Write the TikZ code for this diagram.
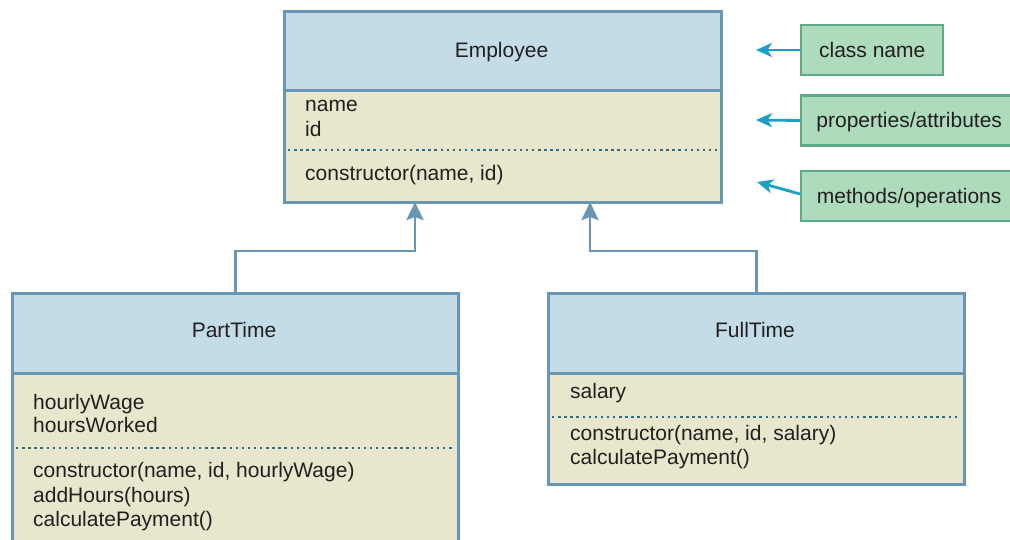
\documentclass[tikz,border=0pt]{standalone}
\usepackage{fontspec}
\setmainfont{Liberation Sans}
\usetikzlibrary{arrows.meta}
\definecolor{hdr}{HTML}{C3DCE8}
\definecolor{bdy}{HTML}{E8E6CC}
\definecolor{brd}{HTML}{6A96B6}
\definecolor{dotc}{HTML}{2C6E88}
\definecolor{lblfill}{HTML}{AEDBBC}
\definecolor{lbldraw}{HTML}{5CAA88}
\definecolor{cyanarr}{HTML}{1CA0C6}
\definecolor{txt}{HTML}{231F20}
\tikzset{
  boxpart/.style={draw=brd, line width=2.6pt, inner sep=0pt, anchor=north west},
  hdrbox/.style={boxpart, fill=hdr},
  bodybox/.style={boxpart, fill=bdy},
  ttl/.style={anchor=base, inner sep=0pt, text=txt},
  line/.style={anchor=base west, inner sep=0pt, text=txt},
  sep/.style={draw=dotc, line width=2.5pt, dash pattern=on 2.4pt off 3.7pt},
  inh/.style={draw=brd, line width=2.6pt, -{Stealth[length=18pt,width=17pt,inset=3pt]}},
  lbl/.style={draw=lbldraw, fill=lblfill, line width=2.4pt, anchor=west, inner sep=0pt,
    minimum height=50pt, text height=15pt, text depth=1pt, text=txt},
  callout/.style={draw=cyanarr, line width=2.8pt, -{Stealth[length=16pt,width=14pt,inset=4.5pt]}}
}
\begin{document}
\begin{tikzpicture}[x=1pt,y=-1pt, font=\fontsize{21}{24}\selectfont]
\useasboundingbox (0,0) rectangle (1010,539);

% Employee
\node[bodybox, minimum width=437pt, minimum height=112pt] (eb) at (283,89) {};
\node[hdrbox, minimum width=437pt, minimum height=79pt] (eh) at (283,10) {};
\node[ttl] (et) at (501.5,57.3) {Employee};
\node[line] (e1) at (305,111.5) {name};
\node[line] (e2) at (305,136) {id};
\coordinate (edl) at (288,150);
\coordinate (edr) at (717,150);
\draw[sep] (edl) -- (edr);
\node[line] (e3) at (305,180) {constructor(name, id)};

% PartTime
\node[bodybox, minimum width=446pt, minimum height=200pt] (pb) at (11,372) {};
\node[hdrbox, minimum width=446pt, minimum height=80pt] (ph) at (11,292) {};
\node[ttl] (pt) at (234,337.7) {PartTime};
\node[line] (p1) at (33,409.3) {hourlyWage};
\node[line] (p2) at (33,432.6) {hoursWorked};
\coordinate (pdl) at (16,448);
\coordinate (pdr) at (454,448);
\draw[sep] (pdl) -- (pdr);
\node[line] (p3) at (33,477.7) {constructor(name, id, hourlyWage)};
\node[line] (p4) at (33,502.2) {addHours(hours)};
\node[line] (p5) at (33,526.7) {calculatePayment()};

% FullTime
\node[bodybox, minimum width=416pt, minimum height=111pt] (fb) at (547,372) {};
\node[hdrbox, minimum width=416pt, minimum height=80pt] (fh) at (547,292) {};
\node[ttl] (ft) at (755,337.7) {FullTime};
\node[line] (f1) at (570,398) {salary};
\coordinate (fdl) at (552,417);
\coordinate (fdr) at (960,417);
\draw[sep] (fdl) -- (fdr);
\node[line] (f2) at (570,440.7) {constructor(name, id, salary)};
\node[line] (f3) at (570,464.5) {calculatePayment()};

% inheritance
\coordinate (pa) at (415,202);
\coordinate (fa) at (590,202);
\draw[inh] (ph.north) -- ++(0,-41) -| (pa);
\draw[inh] (fh.north) -- ++(0,-41) -| (fa);

% callouts
\node[lbl, minimum width=142pt] (lc) at (800,50) {class name};
\node[lbl, minimum width=216pt] (lp) at (800,120.5) {properties/attributes};
\node[lbl, minimum width=216pt] (lm) at (800,196) {methods/operations};
\coordinate (ac) at (756,50);
\coordinate (ap) at (756,120);
\coordinate (am) at (757,182);
\coordinate (lms) at (800,194);
\draw[callout] (lc.west) -- (ac);
\draw[callout] (lp.west) -- (ap);
\draw[callout] (lms) -- (am);
\end{tikzpicture}
\end{document}
